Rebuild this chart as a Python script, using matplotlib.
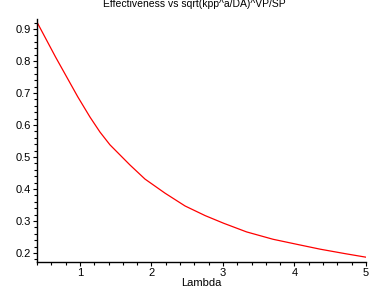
import matplotlib
matplotlib.use('Agg')
import matplotlib.pyplot as plt
from matplotlib.ticker import MultipleLocator

# valores
lambda_vals = [0.41, 0.66, 0.97, 1.14, 1.28, 1.42, 1.70, 1.91, 2.19, 2.47,
               2.75, 3.01, 3.33, 3.70, 4.06, 4.36, 4.71, 5.00]
efetividade = [0.917, 0.812, 0.688, 0.625, 0.578, 0.538, 0.475, 0.431, 0.387, 0.347,
               0.317, 0.293, 0.266, 0.243, 0.226, 0.212, 0.198, 0.187]

titulo = 'Effectiveness vs sqrt(kpp^a/DA)^VP/SP'
rotulo_x = 'Lambda'

plt.rcParams['font.family'] = ['Liberation Sans', 'DejaVu Sans']

fig = plt.figure(figsize=(3.88, 2.88), dpi=100)
ax = fig.add_axes([37 / 388, 1 - 262 / 288, (366 - 37) / 388, (262 - 19) / 288])

ax.plot(lambda_vals, efetividade, color='red', linewidth=0.9)

ax.set_xlim(0.4, 5.0)
ax.set_ylim(0.172, 0.931)

ax.spines['top'].set_visible(False)
ax.spines['right'].set_visible(False)
ax.spines['left'].set_linewidth(1.0)
ax.spines['bottom'].set_linewidth(1.0)

ax.xaxis.set_major_locator(MultipleLocator(1))
ax.xaxis.set_minor_locator(MultipleLocator(0.2))
ax.yaxis.set_major_locator(MultipleLocator(0.1))
ax.yaxis.set_minor_locator(MultipleLocator(0.02))
ax.tick_params(which='major', direction='out', length=3, width=0.8, labelsize=8, pad=1.5)
ax.tick_params(which='minor', direction='out', length=2, width=0.8)

ax.set_xlabel(rotulo_x, fontsize=8, labelpad=0)
fig.text(0.5, 1 - 7 / 288, titulo, ha='center', va='baseline', fontsize=7.5)

plt.savefig('out.png', dpi=100)
plt.close()
